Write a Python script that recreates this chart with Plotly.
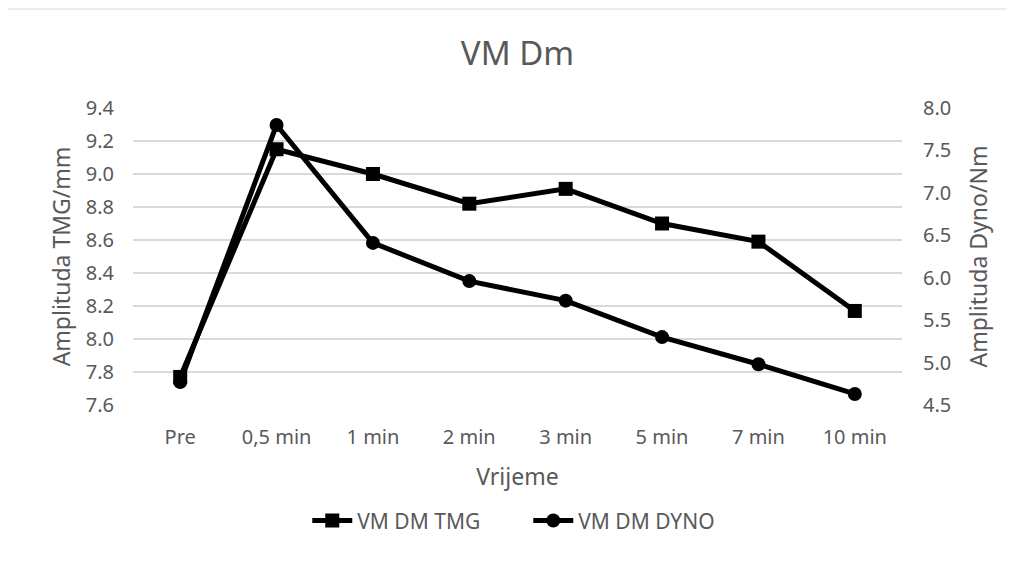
import plotly.graph_objects as go

categories = ["Pre", "0,5 min", "1 min", "2 min", "3 min", "5 min", "7 min", "10 min"]
tmg = [7.77, 9.15, 9.00, 8.82, 8.91, 8.70, 8.59, 8.17]
dyno = [4.77, 7.80, 6.41, 5.96, 5.73, 5.30, 4.98, 4.63]
left_ticks = [7.6, 7.8, 8.0, 8.2, 8.4, 8.6, 8.8, 9.0, 9.2, 9.4]
right_ticks = [4.5, 5.0, 5.5, 6.0, 6.5, 7.0, 7.5, 8.0]

FONT = "Noto Sans"
GREY = "#595959"

fig = go.Figure()
fig.add_trace(go.Scatter(
    x=categories, y=tmg, name="VM DM TMG", mode="lines+markers",
    line=dict(color="black", width=5),
    marker=dict(symbol="square", size=14, color="black"),
))
fig.add_trace(go.Scatter(
    x=categories, y=dyno, name="VM DM DYNO", mode="lines+markers",
    line=dict(color="black", width=5),
    marker=dict(symbol="circle", size=14, color="black"),
    yaxis="y2",
))

fig.update_layout(
    width=1015, height=579,
    margin=dict(l=125, r=121, t=100, b=182),
    paper_bgcolor="white", plot_bgcolor="white",
    font=dict(family=FONT, color=GREY, size=20),
    title=dict(text="VM Dm", x=0.5, xref="paper", xanchor="center",
               y=1 - 45 / 579, yref="container", yanchor="middle",
               font=dict(family=FONT, size=33, color=GREY)),
    xaxis=dict(
        showgrid=False, showline=False, ticks="", zeroline=False,
        tickfont=dict(size=20, color=GREY), ticklabelstandoff=18,
        title=dict(text="Vrijeme", font=dict(size=23, color=GREY), standoff=19),
    ),
    yaxis=dict(
        range=[7.6, 9.4], tickvals=left_ticks,
        ticktext=[f"{v:.1f}" for v in left_ticks],
        showgrid=True, gridcolor="#d9d9d9", gridwidth=1.5,
        zeroline=False, showline=False, ticks="",
        tickfont=dict(size=20, color=GREY), ticklabelstandoff=18,
        title=dict(text="Amplituda TMG/mm", font=dict(size=23, color=GREY), standoff=8),
    ),
    yaxis2=dict(
        range=[4.5, 8.0], tickvals=right_ticks,
        ticktext=[f"{v:.1f}" for v in right_ticks],
        overlaying="y", side="right", showgrid=False, zeroline=False,
        showline=False, ticks="",
        tickfont=dict(size=20, color=GREY), ticklabelstandoff=20,
        title=dict(text="Amplituda Dyno/Nm", font=dict(size=23, color=GREY), standoff=20),
    ),
    legend=dict(orientation="h", x=0.514, xanchor="center", y=-0.39, yanchor="middle",
                font=dict(size=21, color=GREY), itemwidth=40, traceorder="normal",
                entrywidth=166, entrywidthmode="pixels"),
    shapes=[dict(type="rect", xref="paper", yref="paper",
                 x0=-129 / 769, x1=1.2, y0=-1.0, y1=(405 - 9) / 297,
                 line=dict(color="#d9d9d9", width=1), layer="below")],
)

fig.write_html("out.html")
